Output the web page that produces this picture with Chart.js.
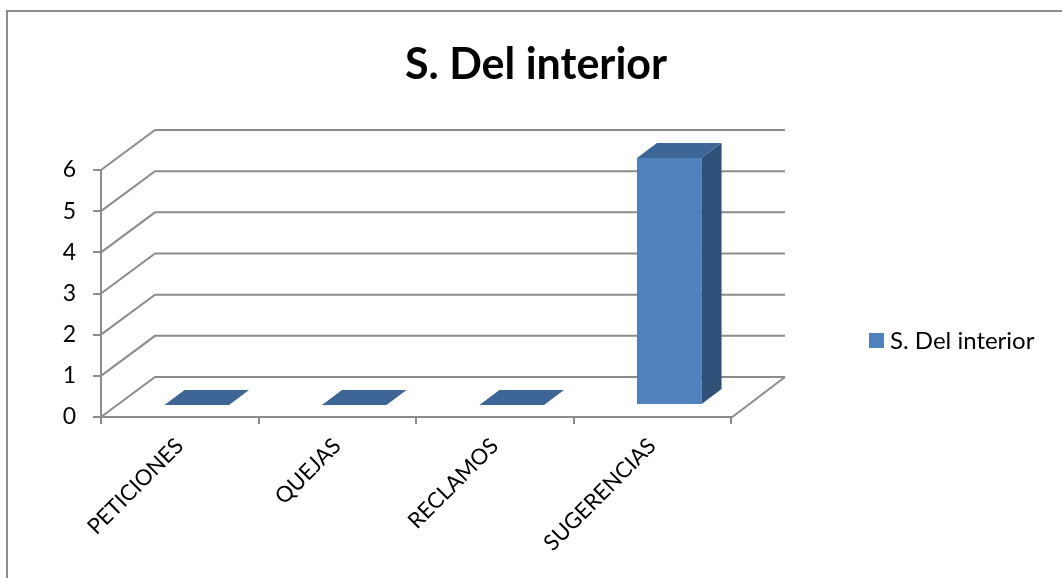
<!DOCTYPE html>
<html><head><meta charset="utf-8">
<script src="https://cdn.jsdelivr.net/npm/chart.js@4.4.1/dist/chart.umd.min.js"></script>
<style>html,body{margin:0;padding:0;background:#fff;overflow:hidden}</style>
</head><body>
<canvas id="c" width="1062" height="578" style="display:block;width:1062px;height:578px"></canvas>
<script>
// ---- data ----
const TITLE = 'S. Del interior';
const SERIES_NAME = 'S. Del interior';
const CATEGORIES = ['PETICIONES', 'QUEJAS', 'RECLAMOS', 'SUGERENCIAS'];
const VALUES = [0, 0, 0, 6];
const Y_MIN = 0, Y_MAX = 6, Y_STEP = 1;

// ---- style ----
const FONT = 'Lato, "Open Sans", sans-serif';
const GRID = '#8c8c8c';
const FRONT = '#4f81bd', TOP = '#3d6596', SIDE = '#2f5079';
const WALL = {dx: 54, dy: -40};     // depth of back wall
const BAR_SHIFT = {dx: 17, dy: -12}; // bars sit mid-depth
const BAR_DEPTH = {dx: 20, dy: -15};

const plot3d = {
  id: 'plot3d',
  beforeDraw(chart) {
    const ctx = chart.ctx;
    ctx.save();
    ctx.strokeStyle = '#8c8c8c'; ctx.lineWidth = 2;
    ctx.beginPath(); ctx.moveTo(7, 578); ctx.lineTo(7, 11); ctx.lineTo(1062, 11); ctx.stroke();
    ctx.restore();
  },
  beforeDatasetsDraw(chart) {
    const {ctx, chartArea: a, scales: {y}} = chart;
    ctx.save();
    ctx.strokeStyle = GRID; ctx.lineWidth = 2;
    y.ticks.forEach(t => {
      const py = y.getPixelForValue(t.value);
      ctx.beginPath();
      ctx.moveTo(a.left, py);
      ctx.lineTo(a.left + WALL.dx, py + WALL.dy);
      ctx.lineTo(a.right + WALL.dx, py + WALL.dy);
      ctx.stroke();
    });
    const p0 = y.getPixelForValue(Y_MIN);
    ctx.beginPath();
    ctx.moveTo(a.right, p0 + 1);
    ctx.lineTo(a.right + WALL.dx, p0 + WALL.dy);
    ctx.stroke();
    ctx.restore();
    ctx.save();
    ctx.translate(BAR_SHIFT.dx, BAR_SHIFT.dy);
  },
  afterDatasetsDraw(chart) {
    const ctx = chart.ctx;
    const meta = chart.getDatasetMeta(0);
    meta.data.forEach(el => {
      const {x, y, base, width} = el.getProps(['x', 'y', 'base', 'width'], true);
      const l = x - width / 2, r = x + width / 2;
      ctx.fillStyle = SIDE;
      ctx.beginPath();
      ctx.moveTo(r, y); ctx.lineTo(r + BAR_DEPTH.dx, y + BAR_DEPTH.dy);
      ctx.lineTo(r + BAR_DEPTH.dx, base + BAR_DEPTH.dy); ctx.lineTo(r, base);
      ctx.closePath(); ctx.fill();
      ctx.fillStyle = TOP;
      ctx.beginPath();
      ctx.moveTo(l, y); ctx.lineTo(r, y);
      ctx.lineTo(r + BAR_DEPTH.dx, y + BAR_DEPTH.dy); ctx.lineTo(l + BAR_DEPTH.dx, y + BAR_DEPTH.dy);
      ctx.closePath(); ctx.fill();
    });
    ctx.restore();
  },
  afterDraw(chart) {
    const ctx = chart.ctx;
    const ds = chart.data.datasets[0];
    ctx.save();
    ctx.fillStyle = ds.backgroundColor;
    ctx.fillRect(869, 333, 15, 15);
    ctx.fillStyle = '#000';
    ctx.font = '24px ' + FONT;
    ctx.textBaseline = 'middle';
    ctx.fillText(ds.label, 890, 341);
    ctx.restore();
  }
};

new Chart(document.getElementById('c'), {
  type: 'bar',
  data: {
    labels: CATEGORIES,
    datasets: [{
      label: SERIES_NAME,
      data: VALUES,
      backgroundColor: FRONT,
      borderWidth: 0,
      barPercentage: 0.41,
      categoryPercentage: 1,
      clip: false
    }]
  },
  options: {
    responsive: false,
    animation: false,
    devicePixelRatio: 1,
    layout: {padding: {left: 10, right: 0, top: 0, bottom: 0}},
    plugins: {
      legend: {display: false},
      tooltip: {enabled: false},
      title: {
        display: true, text: TITLE, color: '#000',
        font: {family: FONT, size: 43, weight: 'bold'},
        padding: {top: 39, bottom: 79.4}
      }
    },
    scales: {
      x: {
        grid: {drawOnChartArea: false, drawTicks: true, tickLength: 7, color: GRID, lineWidth: 2, offset: true},
        border: {display: true, color: GRID, width: 2},
        ticks: {color: '#000', font: {family: FONT, size: 22}, minRotation: 45, maxRotation: 45, autoSkip: false, padding: 9},
        afterFit(s) { s.height = 161; }
      },
      y: {
        min: Y_MIN, max: Y_MAX,
        grid: {drawOnChartArea: false, drawTicks: true, tickLength: 8, color: GRID, lineWidth: 2},
        border: {display: true, color: GRID, width: 2},
        ticks: {stepSize: Y_STEP, color: '#000', font: {family: FONT, size: 23}, padding: 17},
        afterFit(s) { s.width = 91; }
      },
      gap: {
        position: 'right', display: true,
        grid: {display: false}, border: {display: false}, ticks: {display: false},
        afterFit(s) { s.width = 331; }
      }
    }
  },
  plugins: [plot3d]
});
</script>
</body></html>
